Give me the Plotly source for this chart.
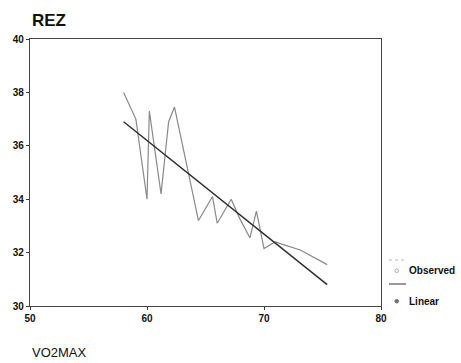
import plotly.graph_objects as go

# Observed REZ values against VO2MAX
observed_x = [58.0, 59.05, 60.0, 60.2, 61.2, 61.85, 62.35, 64.4, 65.6, 66.0,
              67.2, 67.9, 68.8, 69.35, 70.0, 70.95, 71.65, 73.1, 75.4]
observed_y = [38.0, 37.0, 34.0, 37.3, 34.2, 36.9, 37.45, 33.2, 34.1, 33.1,
              34.0, 33.3, 32.55, 33.55, 32.15, 32.4, 32.3, 32.1, 31.55]

# Linear fit endpoints
linear_x = [58.0, 75.4]
linear_y = [36.9, 30.8]

x_ticks = [50, 60, 70, 80]
y_ticks = [30, 32, 34, 36, 38, 40]

FONT = "Liberation Sans, Arial, sans-serif"

fig = go.Figure()
fig.add_trace(go.Scatter(x=observed_x, y=observed_y, mode="lines",
                         line=dict(color="#8a8a8a", width=1.2), name="Observed"))
fig.add_trace(go.Scatter(x=linear_x, y=linear_y, mode="lines",
                         line=dict(color="#2e2e2e", width=1.5), name="Linear"))

axis_common = dict(showgrid=False, zeroline=False, showline=True, mirror=True,
                   linecolor="#444444", linewidth=1.3, ticks="outside",
                   ticklen=3, tickwidth=1, tickcolor="#3a3a3a",
                   tickfont=dict(family=FONT, size=10, color="#111111", weight="bold"))

fig.update_xaxes(range=[50, 80], tickvals=x_ticks, **axis_common)
fig.update_yaxes(range=[30, 40], tickvals=y_ticks, **axis_common)

# Plot-area geometry in pixels
L = 29.5
W = 351.5
T = 39
H = 267
B = T + H


def px(x):
    return (x - L) / W


def py(y):
    return (B - y) / H


# Hand-drawn legend: sample line above, marker beside label
shapes = [
    dict(type="line", xref="paper", yref="paper", x0=px(389), x1=px(406),
         y0=py(260), y1=py(260), line=dict(color="#b5b5b5", width=1, dash="dot")),
    dict(type="line", xref="paper", yref="paper", x0=px(389), x1=px(406),
         y0=py(284), y1=py(284), line=dict(color="#555555", width=1.2)),
    dict(type="circle", xref="paper", yref="paper", x0=px(395), x1=px(398.5),
         y0=py(269), y1=py(272.5), line=dict(color="#aaaaaa", width=1)),
    dict(type="circle", xref="paper", yref="paper", x0=px(395), x1=px(398.5),
         y0=py(299.5), y1=py(303), fillcolor="#777777", line=dict(color="#666666", width=1)),
]

annotations = [
    dict(text="<b>REZ</b>", xref="paper", yref="paper", x=px(30), y=py(20), xanchor="left",
         yanchor="middle", showarrow=False,
         font=dict(family=FONT, size=17, color="#111111")),
    dict(text="VO2MAX", xref="paper", yref="paper", x=px(30), y=py(352), xanchor="left",
         yanchor="middle", showarrow=False,
         font=dict(family=FONT, size=13, color="#111111")),
    dict(text="<b>Observed</b>", xref="paper", yref="paper", x=px(407), y=py(270.5),
         xanchor="left", yanchor="middle", showarrow=False,
         font=dict(family=FONT, size=10, color="#111111")),
    dict(text="<b>Linear</b>", xref="paper", yref="paper", x=px(407), y=py(301),
         xanchor="left", yanchor="middle", showarrow=False,
         font=dict(family=FONT, size=10, color="#111111")),
]

fig.update_layout(width=461, height=363,
                  margin=dict(l=L, r=461 - L - W, t=T, b=363 - B),
                  paper_bgcolor="white", plot_bgcolor="white", showlegend=False,
                  shapes=shapes, annotations=annotations)

fig.write_html("out.html")
